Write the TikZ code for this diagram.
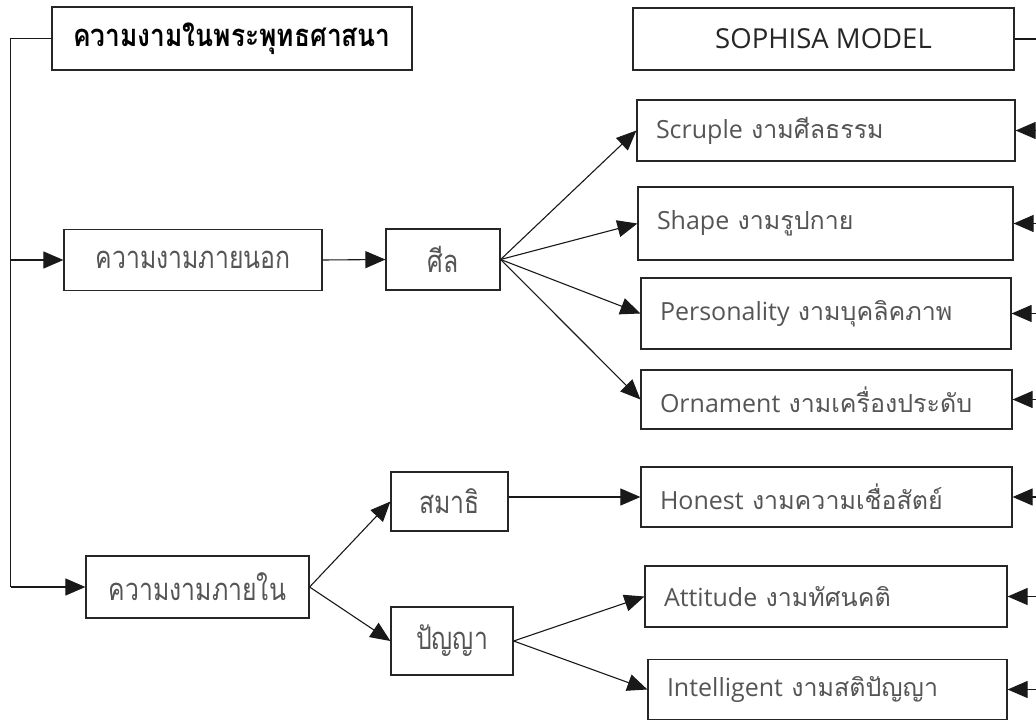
\documentclass[tikz,border=0pt]{standalone}
\usepackage{fontspec}
\setmainfont{Open Sans}
\newfontfamily\thai[Script=Thai]{Loma}
\newfontfamily\thaic[Script=Thai,FakeStretch=0.8]{Loma}
\newfontfamily\thaib[Script=Thai,FakeStretch=0.85]{Loma}
\usetikzlibrary{arrows.meta}
\definecolor{txtgray}{HTML}{555555}
\tikzset{
  box/.style={draw=black!85, line width=1.2pt, inner sep=0pt, anchor=center},
  rbox/.style={box, text=txtgray, font=\fontsize{25}{30}\selectfont, align=left, inner xsep=19pt},
  lbox/.style={box, text=txtgray, font=\thaic\fontsize{31}{34}\selectfont, align=center},
  conn/.style={line width=1.1pt, draw=black!90},
  arr/.style={conn, arrows={-Triangle[length=20pt,width=17pt]}},
}
\begin{document}
\begin{tikzpicture}[x=1pt,y=-1pt]
\useasboundingbox (0,0) rectangle (1036,722);
% left column
\node[box, minimum width=360pt, minimum height=63pt, font=\thaib\bfseries\fontsize{31}{34}\selectfont] (title) at (232,38.5) {ความงามในพระพุทธศาสนา};
\node[lbox, minimum width=258pt, minimum height=61pt] (outer) at (193,260) {ความงามภายนอก};
\node[lbox, minimum width=114pt, minimum height=61pt] (sila) at (443,259.5) {ศีล};
\node[lbox, minimum width=223pt, minimum height=62pt] (inner) at (197.5,587) {ความงามภายใน};
\node[lbox, minimum width=117pt, minimum height=59pt] (samadhi) at (449.5,501.5) {สมาธิ};
\node[lbox, minimum width=122pt, minimum height=68pt] (panya) at (452,641) {ปัญญา};
% right column
\node[box, minimum width=381pt, minimum height=62pt, text=black!85, font=\fontsize{27.5}{32}\selectfont] (sophisa) at (823.5,39) {SOPHISA MODEL};
\node[rbox, text width=340pt, minimum height=61pt] (scruple) at (826,130.5) {Scruple {\thai งามศีลธรรม}};
\node[rbox, text width=337pt, minimum height=73pt] (shape) at (825.5,223.5) {Shape {\thai งามรูปกาย}};
\node[rbox, text width=332pt, minimum height=71pt] (person) at (826,313.5) {Personality {\thai งามบุคลิคภาพ}};
\node[rbox, text width=333pt, minimum height=59pt] (ornament) at (826.5,399.5) {Ornament {\thai งามเครื่องประดับ}};
\node[rbox, text width=333pt, minimum height=60pt] (honest) at (826.5,497) {Honest {\thai งามความเชื่อสัตย์}};
\node[rbox, text width=324pt, minimum height=61pt] (attitude) at (826,596.5) {Attitude {\thai งามทัศนคติ}};
\node[rbox, text width=321pt, minimum height=60pt] (intel) at (827.5,689.5) {Intelligent {\thai งามสติปัญญา}};
% trunk
\coordinate (trunk) at (10.5,38.5);
\coordinate (redge) at (1036,0);
\draw[conn] (title.west) -- (trunk) -- (trunk |- inner.west);
\draw[arr] (trunk |- outer.west) -- (outer.west);
\draw[arr] (trunk |- inner.west) -- (inner.west);
\draw[arr] (outer.east) -- (sila.west);
\draw[arr] (sila.east) -- (scruple.west);
\draw[arr] (sila.east) -- (shape.west);
\draw[arr] (sila.east) -- (person.west);
\draw[arr] (sila.east) -- (ornament.west);
\draw[arr] (inner.east) -- (samadhi.west);
\draw[arr] (inner.east) -- (panya.west);
\draw[arr] (samadhi.east |- honest.west) -- (honest.west);
\draw[arr] (panya.east) -- (attitude.west);
\draw[arr] (panya.east) -- (intel.west);
% right edge
\draw[conn] (sophisa.east) -- (redge |- sophisa.east);
\foreach \n in {scruple,shape,person,ornament,honest,attitude,intel}
  \draw[arr] (redge |- \n.east) -- (\n.east);
\end{tikzpicture}
\end{document}
